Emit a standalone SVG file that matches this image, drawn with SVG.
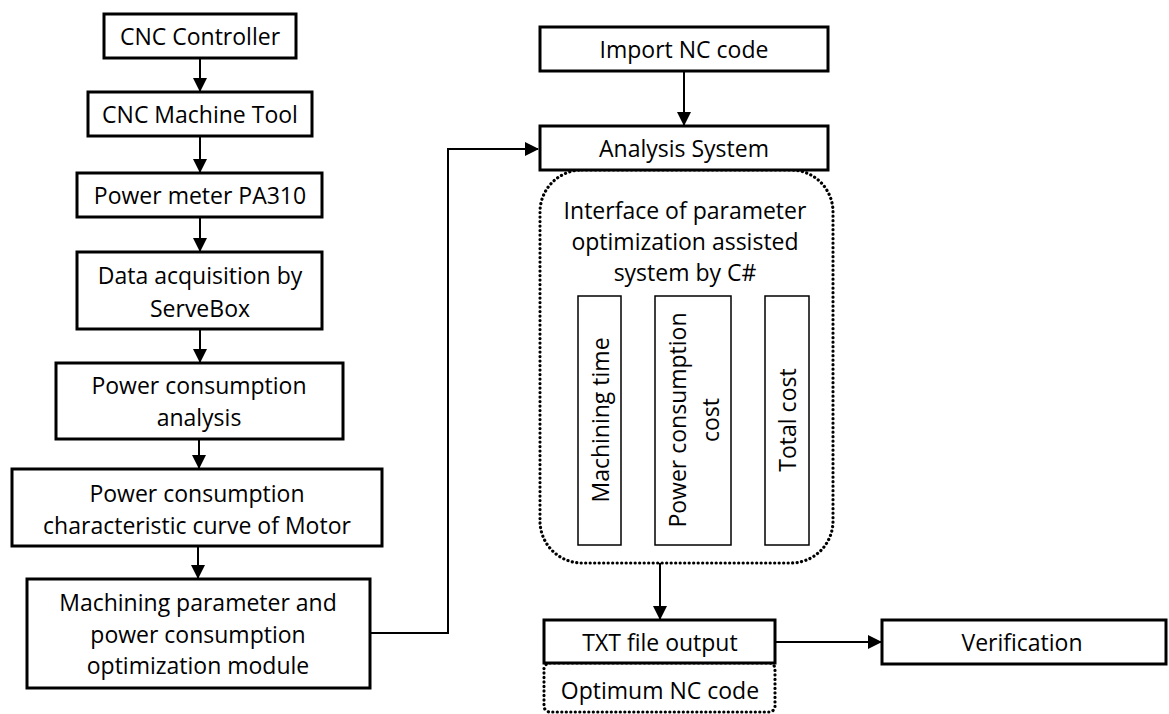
<svg xmlns="http://www.w3.org/2000/svg" width="1169" height="714" viewBox="0 0 1169 714">
<style>
.box{fill:#fff;stroke:#000;stroke-width:3}
.thin{fill:#fff;stroke:#000;stroke-width:1.5}
.dot{fill:none;stroke:#000;stroke-width:3.2;stroke-dasharray:0.1 4.4;stroke-linecap:round}
.t{font-family:"Open Sans","Liberation Sans",sans-serif;font-size:23px;fill:#000;text-anchor:middle;dominant-baseline:central}
.c{fill:none;stroke:#000;stroke-width:2}
</style>
<defs>
<marker id="ahs" markerWidth="14" markerHeight="14" refX="13" refY="7" orient="auto" markerUnits="userSpaceOnUse" viewBox="0 0 14 14">
<path d="M0,0 L14,7 L0,14 Z" fill="#000"/>
</marker>
</defs>
<rect width="1169" height="714" fill="#fff"/>
<g id="connectors">
<line class="c" x1="200" y1="58" x2="200" y2="91" marker-end="url(#ahs)"/>
<line class="c" x1="200" y1="136" x2="200" y2="172" marker-end="url(#ahs)"/>
<line class="c" x1="200" y1="217" x2="200" y2="251" marker-end="url(#ahs)"/>
<line class="c" x1="200" y1="329" x2="200" y2="362" marker-end="url(#ahs)"/>
<line class="c" x1="199" y1="439" x2="199" y2="468" marker-end="url(#ahs)"/>
<line class="c" x1="198" y1="546" x2="198" y2="578" marker-end="url(#ahs)"/>
<polyline class="c" points="370,633 448,633 448,149 538,149" marker-end="url(#ahs)"/>
<line class="c" x1="684" y1="71" x2="684" y2="125" marker-end="url(#ahs)"/>
<line class="c" x1="660" y1="563" x2="660" y2="619" marker-end="url(#ahs)"/>
<line class="c" x1="775" y1="642" x2="881" y2="642" marker-end="url(#ahs)"/>
</g>
<g id="cnc-controller"><rect class="box" x="104" y="14" width="192" height="44"/><text class="t" x="200" y="36">CNC Controller</text></g>
<g id="cnc-machine-tool"><rect class="box" x="88" y="92" width="224" height="44"/><text class="t" x="200" y="114">CNC Machine Tool</text></g>
<g id="power-meter"><rect class="box" x="77" y="173" width="245" height="44"/><text class="t" x="200" y="195">Power meter PA310</text></g>
<g id="data-acquisition"><rect class="box" x="77" y="252" width="245" height="77"/><text class="t" x="200" y="275">Data acquisition by</text><text class="t" x="200" y="308">ServeBox</text></g>
<g id="power-analysis"><rect class="box" x="56" y="363" width="287" height="76"/><text class="t" x="199" y="385">Power consumption</text><text class="t" x="199" y="417">analysis</text></g>
<g id="characteristic-curve"><rect class="box" x="12" y="469" width="370" height="77"/><text class="t" x="197" y="493">Power consumption</text><text class="t" x="197" y="525">characteristic curve of Motor</text></g>
<g id="optimization-module"><rect class="box" x="27" y="579" width="343" height="109"/><text class="t" x="198" y="602">Machining parameter and</text><text class="t" x="198" y="634">power consumption</text><text class="t" x="198" y="665">optimization module</text></g>
<g id="interface">
<rect class="dot" x="540" y="170" width="293" height="393" rx="42" ry="42"/>
<text class="t" x="685" y="210">Interface of parameter</text>
<text class="t" x="685" y="241">optimization assisted</text>
<text class="t" x="685" y="272">system by C#</text>
</g>
<g id="import-nc"><rect class="box" x="540" y="27" width="288" height="44"/><text class="t" x="684" y="49">Import NC code</text></g>
<g id="analysis-system"><rect class="box" x="540" y="126" width="288" height="44"/><text class="t" x="684" y="148">Analysis System</text></g>
<g id="machining-time"><rect class="thin" x="578" y="296" width="43" height="249"/><text class="t" transform="translate(600,420) rotate(-90)">Machining time</text></g>
<g id="power-cost"><rect class="thin" x="655" y="296" width="76" height="249"/><text class="t" transform="translate(677,420) rotate(-90)">Power consumption</text><text class="t" transform="translate(710,420) rotate(-90)">cost</text></g>
<g id="total-cost"><rect class="thin" x="765" y="296" width="44" height="249"/><text class="t" transform="translate(787,420) rotate(-90)">Total cost</text></g>
<g id="optimum-nc"><rect class="dot" x="544" y="663" width="231" height="49" rx="6" ry="6"/><text class="t" x="660" y="690">Optimum NC code</text></g>
<g id="txt-output"><rect class="box" x="544" y="620" width="231" height="43"/><text class="t" x="660" y="642">TXT file output</text></g>
<g id="verification"><rect class="box" x="882" y="620" width="284" height="44"/><text class="t" x="1022" y="642">Verification</text></g>
</svg>
